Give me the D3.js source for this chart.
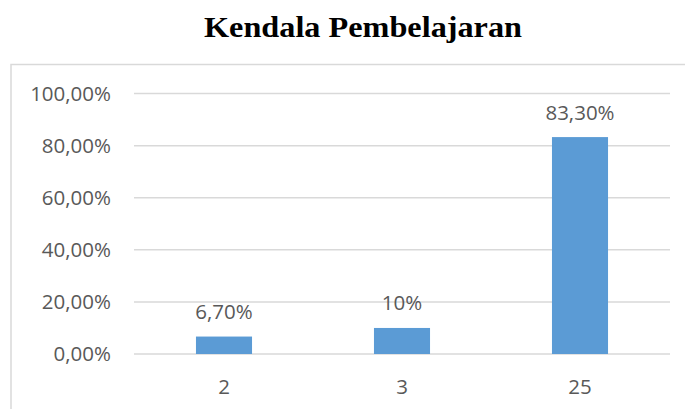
<!DOCTYPE html>
<html>
<head>
<meta charset="utf-8">
<script src="https://cdn.jsdelivr.net/npm/d3@7"></script>
<style>
  body { margin: 0; background: #fff; }
  svg { display: block; }
</style>
</head>
<body>
<div id="chart"></div>
<script>
// Chart data
const categories = ["2", "3", "25"];
const values = [6.7, 10, 83.3];
const valueLabels = ["6,70%", "10%", "83,30%"];
const yTicks = [0, 20, 40, 60, 80, 100];

const width = 685, height = 409;
const fmt = (d) => d.toFixed(2).replace(".", ",") + "%";

const svg = d3.select("#chart")
    .append("svg")
    .attr("width", width)
    .attr("height", height);

// Chart frame
svg.append("rect")
    .attr("x", 11)
    .attr("y", 64.5)
    .attr("width", 740)
    .attr("height", 400)
    .attr("fill", "none")
    .attr("stroke", "#d9d9d9")
    .attr("stroke-width", 1.5);

// Title
svg.append("text")
    .attr("x", 363)
    .attr("y", 37)
    .attr("text-anchor", "middle")
    .attr("textLength", 318)
    .attr("lengthAdjust", "spacingAndGlyphs")
    .style("font-family", "'Liberation Serif', serif")
    .style("font-weight", "bold")
    .style("font-size", "29.5px")
    .style("fill", "#000")
    .text("Kendala Pembelajaran");

// Scales
const x = d3.scaleBand()
    .domain(categories)
    .range([135, 669])
    .paddingInner(0.685)
    .paddingOuter(0.3425);

const y = d3.scaleLinear()
    .domain([0, 100])
    .range([354, 93.6]);

// Gridlines
svg.append("g")
    .selectAll("line")
    .data(yTicks)
    .enter()
    .append("line")
    .attr("x1", 134)
    .attr("x2", 670)
    .attr("y1", (d) => y(d))
    .attr("y2", (d) => y(d))
    .attr("stroke", "#d9d9d9")
    .attr("stroke-width", 1.5);

// Y axis labels
const textStyle = (sel) => sel
    .style("font-family", "'Open Sans', sans-serif")
    .style("font-size", "20.5px")
    .style("fill", "#595959");

svg.append("g")
    .selectAll("text")
    .data(yTicks)
    .enter()
    .append("text")
    .attr("x", 111)
    .attr("y", (d) => y(d))
    .attr("dy", "0.36em")
    .attr("text-anchor", "end")
    .call(textStyle)
    .text(fmt);

// Bars
svg.append("g")
    .selectAll("rect")
    .data(values)
    .enter()
    .append("rect")
    .attr("x", (d, i) => x(categories[i]))
    .attr("y", (d) => y(d))
    .attr("width", x.bandwidth())
    .attr("height", (d) => y(0) - y(d))
    .attr("fill", "#5b9bd5");

// Value labels
svg.append("g")
    .selectAll("text")
    .data(values)
    .enter()
    .append("text")
    .attr("x", (d, i) => x(categories[i]) + x.bandwidth() / 2)
    .attr("y", (d) => y(d) - 17.5)
    .attr("text-anchor", "middle")
    .call(textStyle)
    .text((d, i) => valueLabels[i]);

// Category labels
svg.append("g")
    .selectAll("text")
    .data(categories)
    .enter()
    .append("text")
    .attr("x", (d) => x(d) + x.bandwidth() / 2)
    .attr("y", 393.5)
    .attr("text-anchor", "middle")
    .call(textStyle)
    .text((d) => d);
</script>
</body>
</html>
